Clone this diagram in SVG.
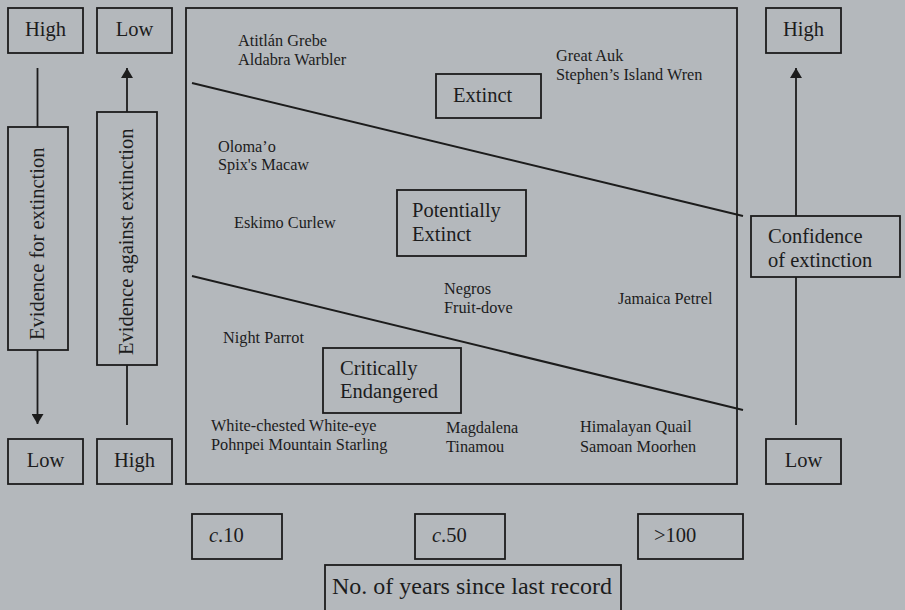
<svg xmlns="http://www.w3.org/2000/svg" width="905" height="610" viewBox="0 0 905 610">
<style>
.bx{fill:none;stroke:#1c1c1c;stroke-width:1.8}
.ln{fill:none;stroke:#1c1c1c;stroke-width:1.8}
.dl{fill:none;stroke:#1c1c1c;stroke-width:2}
text{font-family:"Liberation Serif","Times New Roman",serif;fill:#1c1c1c}
.lg{font-size:20.5px}
.sp{font-size:16.3px}
</style>
<defs>
<marker id="ah" viewBox="0 0 10 12" refX="10" refY="6" markerWidth="10" markerHeight="12" markerUnits="userSpaceOnUse" orient="auto">
<path d="M0,0 L10,6 L0,12 Z" fill="#1c1c1c"/>
</marker>
</defs>
<rect width="905" height="610" fill="#b4b8bc"/>

<g id="connectors">
<line class="ln" x1="37.5" y1="68" x2="37.5" y2="127"/>
<line class="ln" x1="37.5" y1="350" x2="37.5" y2="424" marker-end="url(#ah)"/>
<line class="ln" x1="127" y1="112" x2="127" y2="68" marker-end="url(#ah)"/>
<line class="ln" x1="127" y1="365" x2="127" y2="425"/>
<line class="ln" x1="796" y1="216" x2="796" y2="68" marker-end="url(#ah)"/>
<line class="ln" x1="796" y1="277" x2="796" y2="425"/>
<line class="dl" x1="192" y1="83" x2="743" y2="216"/>
<line class="dl" x1="192" y1="276" x2="743" y2="410"/>
</g>

<g id="main-panel"><rect class="bx" x="186" y="8" width="551" height="476"/></g>

<g id="left-high"><rect class="bx" x="8" y="8" width="75" height="45"/><text class="lg" x="45.5" y="36" text-anchor="middle">High</text></g>
<g id="left-low"><rect class="bx" x="97" y="8" width="75" height="45"/><text class="lg" x="134.5" y="36" text-anchor="middle">Low</text></g>
<g id="right-high"><rect class="bx" x="766" y="8" width="75" height="45"/><text class="lg" x="803.5" y="36" text-anchor="middle">High</text></g>

<g id="evidence-for"><rect class="bx" x="8" y="127" width="60" height="223"/><text class="lg" transform="translate(44,340) rotate(-90)">Evidence for extinction</text></g>
<g id="evidence-against"><rect class="bx" x="97" y="112" width="60" height="253"/><text class="lg" transform="translate(133,355) rotate(-90)">Evidence against extinction</text></g>

<g id="bottom-low-left"><rect class="bx" x="8" y="439" width="75" height="45"/><text class="lg" x="45.5" y="467" text-anchor="middle">Low</text></g>
<g id="bottom-high"><rect class="bx" x="97" y="439" width="75" height="45"/><text class="lg" x="134.5" y="467" text-anchor="middle">High</text></g>
<g id="bottom-low-right"><rect class="bx" x="766" y="439" width="75" height="45"/><text class="lg" x="803.5" y="467" text-anchor="middle">Low</text></g>

<g id="confidence"><rect class="bx" x="751" y="216" width="149" height="61"/><text class="lg" x="768" y="243">Confidence</text><text class="lg" x="768" y="267">of extinction</text></g>

<g id="extinct"><rect class="bx" x="436" y="74" width="105" height="44"/><text class="lg" x="453" y="102">Extinct</text></g>
<g id="potentially-extinct"><rect class="bx" x="397" y="190" width="129" height="66"/><text class="lg" x="412" y="217">Potentially</text><text class="lg" x="412" y="241">Extinct</text></g>
<g id="critically-endangered"><rect class="bx" x="323" y="348" width="138" height="65"/><text class="lg" x="340" y="375">Critically</text><text class="lg" x="340" y="398">Endangered</text></g>

<g id="species">
<text class="sp" x="238" y="46">Atitlán Grebe</text>
<text class="sp" x="238" y="65">Aldabra Warbler</text>
<text class="sp" x="556" y="61">Great Auk</text>
<text class="sp" x="556" y="80">Stephen’s Island Wren</text>
<text class="sp" x="218" y="152">Oloma’o</text>
<text class="sp" x="218" y="170">Spix's Macaw</text>
<text class="sp" x="234" y="228">Eskimo Curlew</text>
<text class="sp" x="444" y="294">Negros</text>
<text class="sp" x="444" y="313">Fruit-dove</text>
<text class="sp" x="618" y="304">Jamaica Petrel</text>
<text class="sp" x="223" y="343">Night Parrot</text>
<text class="sp" x="211" y="431">White-chested White-eye</text>
<text class="sp" x="211" y="450">Pohnpei Mountain Starling</text>
<text class="sp" x="446" y="433">Magdalena</text>
<text class="sp" x="446" y="452">Tinamou</text>
<text class="sp" x="580" y="432">Himalayan Quail</text>
<text class="sp" x="580" y="452">Samoan Moorhen</text>
</g>

<g id="c10"><rect class="bx" x="192" y="514" width="90" height="45"/><text class="lg" x="209" y="542"><tspan font-style="italic">c</tspan>.10</text></g>
<g id="c50"><rect class="bx" x="415" y="514" width="90" height="45"/><text class="lg" x="432" y="542"><tspan font-style="italic">c</tspan>.50</text></g>
<g id="gt100"><rect class="bx" x="638" y="514" width="105" height="45"/><text class="lg" x="654" y="542">&gt;100</text></g>
<g id="years-label"><rect class="bx" x="325" y="565" width="296" height="50"/><text x="332" y="594" font-size="24">No. of years since last record</text></g>
</svg>
